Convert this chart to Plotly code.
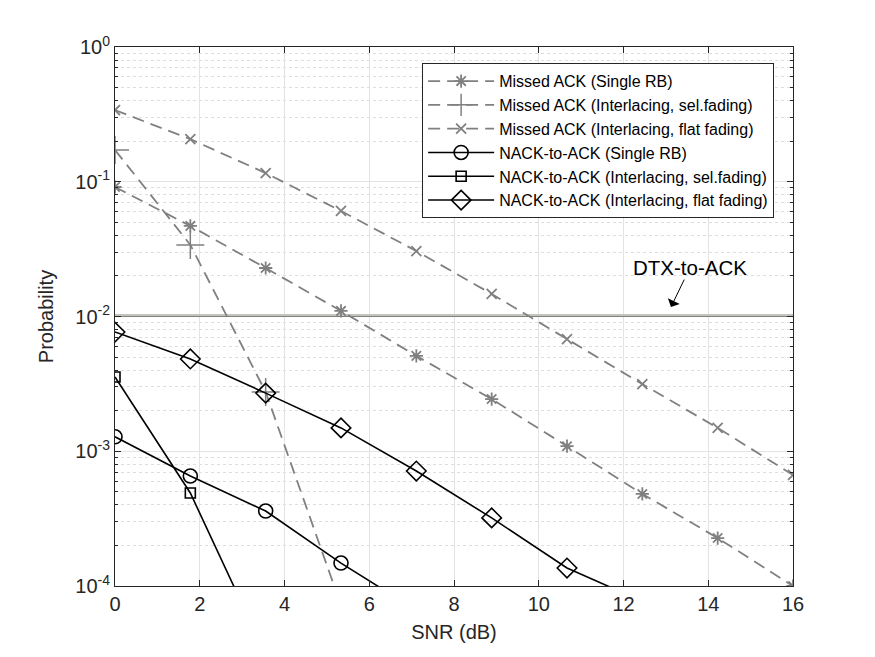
import plotly.graph_objects as go

snr = [0, 1.7778, 3.5556, 5.3333, 7.1111, 8.8889, 10.6667, 12.4444, 14.2222, 16]

missed_single = [0.0914, 0.047, 0.0229, 0.011, 0.0051, 0.00244, 0.00109, 0.000482, 0.000227, 0.0001]
missed_sel = [0.172, 0.034, 0.00275, 0.000072]
missed_flat = [0.34, 0.207, 0.116, 0.0607, 0.0306, 0.0147, 0.0068, 0.00315, 0.00149, 0.000667]
nack_single = [0.00128, 0.000655, 0.00036, 0.000148, 0.000066]
nack_sel = [0.00356, 0.00049, 0.000031]
nack_flat = [0.00767, 0.00484, 0.0027, 0.00149, 0.000713, 0.00032, 0.000136, 0.000077]
dtx_snr = [0, 16]
dtx_a = [0.0101, 0.0101]
dtx_b = [0.01025, 0.01025]

y_tickvals = [1e-4, 1e-3, 1e-2, 1e-1, 1]
y_ticktext = ["10<sup>-4</sup>", "10<sup>-3</sup>", "10<sup>-2</sup>", "10<sup>-1</sup>", "10<sup>0</sup>"]

GRAY = "#808080"
FONT = "Liberation Sans"

fig = go.Figure()

# DTX-to-ACK lines (no legend)
fig.add_trace(go.Scatter(x=dtx_snr, y=dtx_a, mode="lines", line=dict(color="#202020", width=1.2), showlegend=False))
fig.add_trace(go.Scatter(x=dtx_snr, y=dtx_b, mode="lines", line=dict(color="#c4c4bc", width=2), showlegend=False))

dash = "12px,7px"
fig.add_trace(go.Scatter(x=snr[:len(missed_single)], y=missed_single, mode="lines+markers",
                         name="Missed ACK (Single RB)",
                         line=dict(color=GRAY, width=1.8, dash=dash),
                         marker=dict(symbol="asterisk-open", size=11, color=GRAY, line=dict(color=GRAY, width=1.8))))
fig.add_trace(go.Scatter(x=snr[:len(missed_sel)], y=missed_sel, mode="lines+markers",
                         name="Missed ACK (Interlacing, sel.fading)",
                         line=dict(color=GRAY, width=1.8, dash=dash),
                         marker=dict(symbol="cross-thin-open", size=20, color=GRAY, line=dict(color=GRAY, width=1.5))))
fig.add_trace(go.Scatter(x=snr[:len(missed_flat)], y=missed_flat, mode="lines+markers",
                         name="Missed ACK (Interlacing, flat fading)",
                         line=dict(color=GRAY, width=1.8, dash=dash),
                         marker=dict(symbol="x-thin-open", size=10, color=GRAY, line=dict(color=GRAY, width=1.8))))
fig.add_trace(go.Scatter(x=snr[:len(nack_single)], y=nack_single, mode="lines+markers",
                         name="NACK-to-ACK (Single RB)",
                         line=dict(color="black", width=1.6),
                         marker=dict(symbol="circle-open", size=14, color="black", line=dict(color="black", width=1.6))))
fig.add_trace(go.Scatter(x=snr[:len(nack_sel)], y=nack_sel, mode="lines+markers",
                         name="NACK-to-ACK (Interlacing, sel.fading)",
                         line=dict(color="black", width=1.6),
                         marker=dict(symbol="square-open", size=10, color="black", line=dict(color="black", width=1.6))))
fig.add_trace(go.Scatter(x=snr[:len(nack_flat)], y=nack_flat, mode="lines+markers",
                         name="NACK-to-ACK (Interlacing, flat fading)",
                         line=dict(color="black", width=1.6),
                         marker=dict(symbol="diamond-open", size=15, color="black", line=dict(color="black", width=1.6))))

fig.add_annotation(x=13.57, y=-1.633, xref="x", yref="y", text="DTX-to-ACK", showarrow=False,
                   font=dict(family=FONT, size=20.5, color="black"))
fig.add_annotation(x=13.12, y=-1.93, xref="x", yref="y", text="", showarrow=True,
                   ax=14, ay=-29, arrowhead=1, arrowsize=2.2, arrowwidth=1, arrowcolor="black")

fig.update_layout(
    width=875, height=657, autosize=False,
    margin=dict(l=115, r=82, t=47, b=71),
    paper_bgcolor="white", plot_bgcolor="white",
    font=dict(family=FONT, size=19, color="#262626"),
    legend=dict(x=0.453, y=0.97, xanchor="left", yanchor="top",
                bgcolor="white", bordercolor="#262626", borderwidth=1, itemwidth=66,
                font=dict(family=FONT, size=16, color="black"), tracegroupgap=0),
    xaxis=dict(range=[0, 16], dtick=2, ticks="inside", ticklen=6, tickcolor="#262626",
               showline=True, linecolor="#262626", linewidth=1, mirror="ticks",
               showgrid=True, gridcolor="#e3e3e3", gridwidth=1, zeroline=False,
               title=dict(text="SNR (dB)", font=dict(family=FONT, size=20), standoff=10),
               tickfont=dict(family=FONT, size=20)),
    yaxis=dict(type="log", range=[-4, 0], tickmode="array", tickvals=y_tickvals, ticktext=y_ticktext,
               ticks="inside", ticklen=6, tickcolor="#262626",
               showline=True, linecolor="#262626", linewidth=1, mirror="ticks",
               showgrid=True, gridcolor="#e3e3e3", gridwidth=1, zeroline=False,
               minor=dict(dtick="D1", ticks="inside", ticklen=3, tickcolor="#262626",
                          showgrid=True, gridcolor="#dedede", griddash="dot", gridwidth=1),
               title=dict(text="Probability", font=dict(family=FONT, size=20), standoff=16),
               tickfont=dict(family=FONT, size=20)),
)

fig.write_html("out.html")
